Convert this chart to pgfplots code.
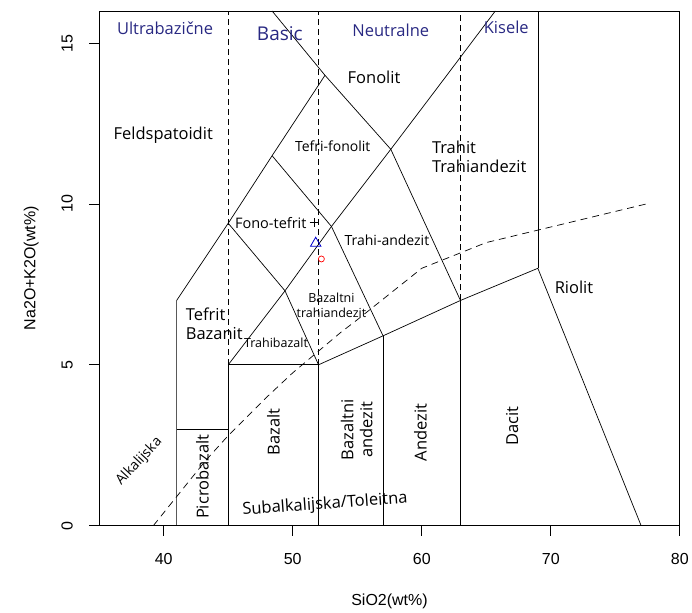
\documentclass[border=0pt]{standalone}
\usepackage{fontspec}
\setmainfont{Liberation Sans}
\newfontfamily\lab{Open Sans}
\usepackage{pgfplots}
\pgfplotsset{compat=1.18}
\definecolor{zone}{RGB}{40,40,130}
\tikzset{
  lbl/.style={font=\lab\fontsize{16.5}{19}\selectfont},
  mid/.style={font=\lab\fontsize{14}{16}\selectfont},
  sml/.style={font=\lab\fontsize{12.5}{15}\selectfont},
}

\begin{document}
\begin{tikzpicture}
\begin{axis}[
  name=tas,
  scale only axis, width=581pt, height=515pt,
  xmin=35, xmax=80, ymin=0, ymax=16,
  xtick={40,50,60,70,80}, ytick={0,5,10,15},
  tick pos=left, tick align=outside, major tick length=10pt,
  tick style={black, line width=0.7pt},
  axis line style={line width=0.7pt},
  /pgf/number format/assume math mode=true,
  tick label style={font=\fontsize{16}{18}\selectfont},
  xticklabel style={yshift=-14pt},
  yticklabel style={rotate=90, anchor=south, yshift=13pt},
  xlabel={SiO2(wt\%)}, ylabel={Na2O+K2O(wt\%)},
  label style={font=\fontsize{16}{18}\selectfont},
  xlabel style={at={(axis description cs:0.5,-0.155)}, anchor=base},
  ylabel style={at={(axis description cs:-0.11,0.5)}, anchor=base},
  clip=true,
]
% granice polja
\addplot[black, line width=0.7pt] coordinates {(41,0) (41,7) (45,9.4) (48.4,11.5) (52.5,14)};
\addplot[black, line width=0.7pt] coordinates {(48.4,16) (52.5,14) (57.6,11.7) (63,7)};
\addplot[black, line width=0.7pt] coordinates {(41,3) (45,3)};
\addplot[black, line width=0.7pt] coordinates {(45,0) (45,5) (52,5) (52,0)};
\addplot[black, line width=0.7pt] coordinates {(45,5) (49.4,7.3) (53,9.3) (57.6,11.7) (61,13.5) (65.7,16)};
\addplot[black, line width=0.7pt] coordinates {(45,9.4) (49.4,7.3) (52,5)};
\addplot[black, line width=0.7pt] coordinates {(48.4,11.5) (53,9.3) (57,5.9)};
\addplot[black, line width=0.7pt] coordinates {(52,5) (57,5.9) (63,7) (69,8) (77,0)};
\addplot[black, line width=0.7pt] coordinates {(57,0) (57,5.9)};
\addplot[black, line width=0.7pt] coordinates {(63,0) (63,7)};
\addplot[black, line width=0.7pt] coordinates {(69,8) (69,16)};
% granice SiO2
\addplot[black, line width=0.7pt, dash pattern=on 6pt off 4pt] coordinates {(45,5) (45,16)};
\addplot[black, line width=0.7pt, dash pattern=on 6pt off 4pt] coordinates {(52,5) (52,16)};
\addplot[black, line width=0.7pt, dash pattern=on 6pt off 4pt] coordinates {(63,7) (63,16)};
% alkalijska / subalkalijska
\addplot[black, line width=0.7pt, dash pattern=on 7pt off 5pt] coordinates {
  (39.2,0) (40,0.4) (43.2,2) (45,2.8) (48,4) (50,4.75) (53.7,6) (55,6.4) (60,8) (65,8.8) (77.4,10)};
% uzorci
\addplot[only marks, mark=+, mark size=4.5pt, black, line width=0.7pt] coordinates {(51.65,9.42)};
\addplot[only marks, mark=triangle, mark size=6pt, blue!80!black, line width=0.8pt] coordinates {(51.78,8.78)};
\addplot[only marks, mark=o, mark size=3pt, red, line width=0.7pt] coordinates {(52.22,8.29)};

% nazivi
\node[lbl, zone] at (axis cs:40.1,15.47) {Ultrabazične};
\node[zone, font=\lab\fontsize{19}{21}\selectfont] at (axis cs:49.0,15.3) {Basic};
\node[lbl, zone] at (axis cs:57.6,15.4) {Neutralne};
\node[lbl, zone] at (axis cs:66.55,15.5) {Kisele};
\node[lbl] at (axis cs:56.3,13.94) {Fonolit};
\node[lbl] at (axis cs:39.96,12.14) {Feldspatoidit};
\node[mid] at (axis cs:53.1,11.8) {Tefri-fonolit};
\node[lbl, anchor=west, align=left, inner sep=0pt] at (axis cs:60.78,11.46) {Trahit\\Trahiandezit};
\node[font=\lab\fontsize{14.5}{16}\selectfont] at (axis cs:48.3,9.41) {Fono-tefrit};
\node[mid] at (axis cs:57.3,8.88) {Trahi-andezit};
\node[lbl] at (axis cs:71.8,7.42) {Riolit};
\node[lbl, anchor=west, align=left, inner sep=0pt] at (axis cs:41.7,6.27) {Tefrit\\Bazanit};
\node[sml, align=center] at (axis cs:53.0,6.85) {Bazaltni\\trahiandezit};
\node[sml] at (axis cs:48.7,5.68) {Trahibazalt};
\node[lbl, rotate=90] at (axis cs:43.0,1.52) {Picrobazalt};
\node[lbl, rotate=90] at (axis cs:48.5,2.92) {Bazalt};
\node[lbl, rotate=90, align=center] at (axis cs:54.96,2.98) {Bazaltni\\andezit};
\node[lbl, rotate=90] at (axis cs:59.9,2.9) {Andezit};
\node[lbl, rotate=90] at (axis cs:67.0,3.1) {Dacit};
\node[mid, rotate=47] at (axis cs:38.1,1.99) {Alkalijska};
\node[lbl, rotate=4] at (axis cs:52.5,0.65) {Subalkalijska/Toleitna};
\end{axis}
\path ([shift={(-99.3pt,-87pt)}]tas.south west) rectangle ([shift={(12pt,11pt)}]tas.north east);
\end{tikzpicture}
\end{document}
